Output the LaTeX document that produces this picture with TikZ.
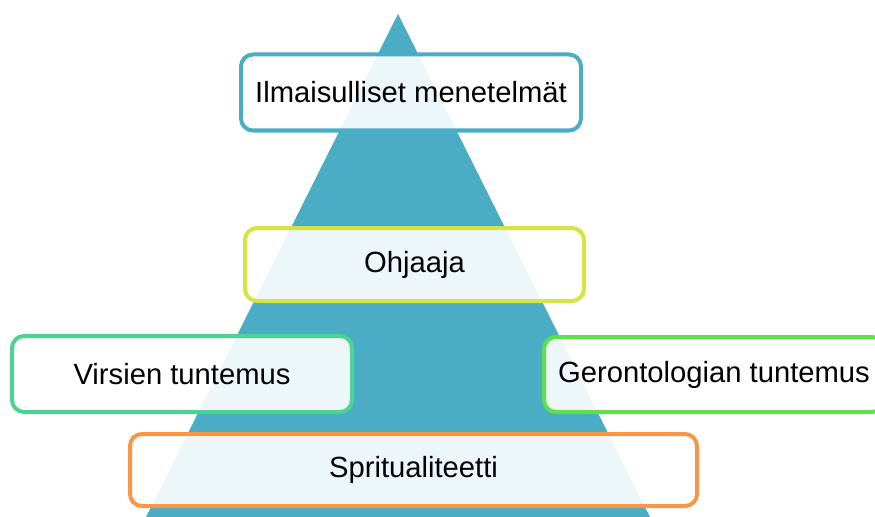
\documentclass[tikz,border=0pt]{standalone}
\usepackage{fontspec}
\setmainfont{Liberation Sans}
\definecolor{pyramid}{HTML}{4BACC6}
\definecolor{topline}{HTML}{4BACC6}
\definecolor{midline}{HTML}{D2E542}
\definecolor{leftline}{HTML}{4CD38F}
\definecolor{rightline}{HTML}{5EE04A}
\definecolor{baseline}{HTML}{F79646}
\begin{document}
\begin{tikzpicture}[
    x = 0.75pt,
    y = -0.75pt,
    level/.style = {rectangle, rounded corners=9pt, line width=3pt,
    fill=white, fill opacity=0.9, text opacity=1,
    font=\fontsize{21.9}{26}\selectfont, inner sep=2pt},
]

\useasboundingbox (0,0) rectangle (875,517);
\clip (0,0) rectangle (875,517);

\fill [pyramid] (398,14) -- (650,517) -- (146,517) -- cycle;

\node[level, draw=topline, minimum width=255pt, minimum height=57pt]
    (menetelmat) at (411,92.5) {Ilmaisulliset menetelmät};
\node[level, draw=midline, minimum width=254.25pt, minimum height=54.75pt]
    (ohjaaja) at (414.5,264.5) {Ohjaaja};
\node[level, draw=leftline, minimum width=255pt, minimum height=57pt]
    (virret) at (182,374) {Virsien tuntemus};
\node[level, draw=rightline, minimum width=255pt, minimum height=56.25pt]
    (gerontologia) at (714,374.5) {Gerontologian tuntemus};
\node[level, draw=baseline, minimum width=425.25pt, minimum height=54pt]
    (spiritualiteetti) at (413.5,470) {Spritualiteetti};
\end{tikzpicture}
\end{document}
